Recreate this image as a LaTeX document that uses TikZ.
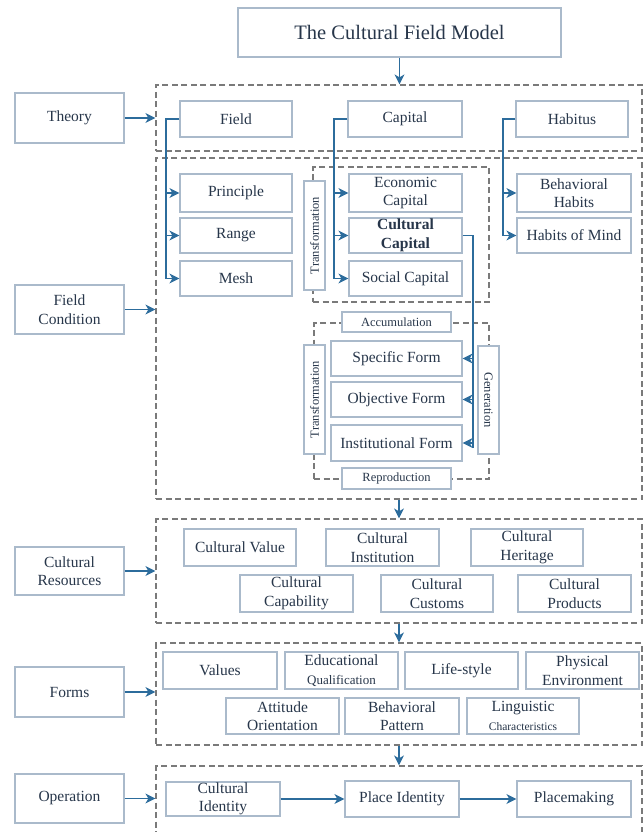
\documentclass[tikz,border=0pt]{standalone}
\usepackage{fontspec}
\setmainfont{Liberation Serif}
\usetikzlibrary{arrows.meta}
\definecolor{bord}{HTML}{AABACB}
\definecolor{txt}{HTML}{27364A}
\definecolor{arr}{HTML}{2C6C9C}
\definecolor{dsh}{HTML}{7A7A7A}
\tikzset{
 bx/.style={draw=bord, line width=1.2pt, fill=white, text=txt, align=center, inner sep=0pt, font=\fontsize{15.5}{18.5}\selectfont},
 dbox/.style={draw=dsh, line width=1.2pt, dash pattern=on 6pt off 3.5pt, inner sep=0pt},
 conn/.style={draw=arr, line width=1.3pt},
 arw/.style={conn, -{Stealth[length=10pt,width=10pt,inset=3pt]}},
 small/.style={font=\fontsize{12.5}{14}\selectfont},
}
\newcommand{\bx}[7][]{\node[bx,#1,minimum width={#5-#3},minimum height={#6-#4}] (#2) at ({(#3+#5)/2},{(#4+#6)/2}) {#7};}
\newcommand{\dbx}[5]{\node[dbox,minimum width={#4-#2},minimum height={#5-#3}] (#1) at ({(#2+#4)/2},{(#3+#5)/2}) {};}
\begin{document}
\begin{tikzpicture}[x=1pt,y=-1pt]
\useasboundingbox (0,0) rectangle (644,832);
\clip (0,0) rectangle (644,832);
% dashed containers
\dbx{dT}{156}{85}{642}{151}
\dbx{dF}{156}{158}{642}{499}
\dbx{dU}{313}{167}{489}{302}
\dbx{dL}{314}{323}{489}{479}
\dbx{dR}{156}{519}{642}{623}
\dbx{dM}{156}{643}{642}{745}
\dbx{dO}{156}{766}{642}{850}
% title
\bx[font=\fontsize{20.5}{23}\selectfont]{title}{238}{8}{561}{57}{The Cultural Field Model}
% left labels
\bx{theory}{15}{93}{124}{143}{Theory}
\bx{fieldc}{15}{285}{124}{334}{Field\\Condition}
\bx{cres}{15}{547}{124}{595}{Cultural\\Resources}
\bx{forms}{15}{667}{124}{717}{Forms}
\bx{oper}{15}{774}{124}{823}{Operation}
\draw[arw] (theory.east) -- (theory.east -| dT.west);
\draw[arw] (fieldc.east) -- (fieldc.east -| dF.west);
\draw[arw] (cres.east) -- (cres.east -| dR.west);
\draw[arw] (forms.east) -- (forms.east -| dM.west);
\draw[arw] (oper.east) -- (oper.east -| dO.west);
% vertical flow
\draw[arw] (title.south) -- (title.south |- dT.north);
\draw[arw] (dF.south) -- (dF.south |- dR.north);
\draw[arw] (dR.south) -- (dR.south |- dM.north);
\draw[arw] (dM.south) -- (dM.south |- dO.north);
% theory row
\bx{field}{180}{101}{292}{137}{Field}
\bx{capital}{348}{101}{462}{137}{Capital}
\bx{habitus}{516}{101}{628}{137}{Habitus}
% field condition
\bx{principle}{180}{174}{292}{212}{Principle}
\bx{range}{180}{218}{292}{253}{Range}
\bx{mesh}{180}{261}{292}{296}{Mesh}
\bx{econ}{349}{174}{462}{212}{Economic\\Capital}
\bx[font=\fontsize{15.5}{18.5}\selectfont\bfseries]{cc}{349}{218}{462}{253}{Cultural\\Capital}
\bx{social}{349}{261}{462}{296}{Social Capital}
\bx{bh}{517}{174}{631}{212}{Behavioral\\Habits}
\bx{hm}{517}{218}{631}{253}{Habits of Mind}
\node[bx,small,rotate=90,minimum width=109,minimum height=21] (tr1) at (314.5,235.5) {Transformation};
% field connectors
\coordinate (fj) at (166,0);
\draw[conn] (field.west) -| (fj |- mesh.west);
\draw[arw] (fj |- principle.west) -- (principle.west);
\draw[arw] (fj |- range.west) -- (range.west);
\draw[arw] (fj |- mesh.west) -- (mesh.west);
\coordinate (cj) at (334,0);
\draw[conn] (capital.west) -| (cj |- social.west);
\draw[arw] (cj |- econ.west) -- (econ.west);
\draw[arw] (cj |- cc.west) -- (cc.west);
\draw[arw] (cj |- social.west) -- (social.west);
\coordinate (hj) at (503,0);
\draw[conn] (habitus.west) -| (hj |- hm.west);
\draw[arw] (hj |- bh.west) -- (bh.west);
\draw[arw] (hj |- hm.west) -- (hm.west);
% forms of cultural capital
\bx{spec}{331}{341}{462}{376}{Specific Form}
\bx{obj}{331}{382}{462}{417}{Objective Form}
\bx{inst}{331}{425}{462}{461}{Institutional Form}
\bx[small]{accu}{342}{312}{451}{332}{Accumulation}
\bx[small]{repro}{342}{468}{451}{489}{Reproduction}
\node[bx,small,rotate=90,minimum width=109,minimum height=21] (tr2) at (314.5,399.5) {Transformation};
\node[bx,small,rotate=-90,minimum width=108,minimum height=21] (gen) at (488.5,400) {Generation};
\coordinate (gj) at (473,448);
\draw[conn] (cc.east) -| (gj);
\draw[arw] (spec.east -| gj) -- (spec.east);
\draw[arw] (obj.east -| gj) -- (obj.east);
\draw[arw] (inst.east -| gj) -- (inst.east);
% cultural resources
\bx{cv}{184}{529}{296}{566}{Cultural Value}
\bx{ci1}{326}{529}{439}{566}{Cultural\\Institution}
\bx{ch}{471}{529}{583}{566}{Cultural\\Heritage}
\bx{ccap}{240}{575}{353}{612}{Cultural\\Capability}
\bx{ccus}{381}{575}{493}{612}{Cultural\\Customs}
\bx{cprod}{518}{575}{631}{612}{Cultural\\Products}
% forms
\bx{val}{163}{652}{277}{689}{Values}
\bx{edu}{285}{652}{398}{689}{Educational\\{\fontsize{13}{14}\selectfont Qualification}}
\bx{life}{405}{652}{518}{689}{Life-style}
\bx{phys}{526}{652}{639}{689}{Physical\\Environment}
\bx{att}{226}{698}{339}{734}{Attitude\\Orientation}
\bx{bp}{345}{698}{459}{734}{Behavioral\\Pattern}
\bx{ling}{467}{698}{579}{734}{Linguistic\\{\fontsize{11.5}{13}\selectfont Characteristics}}
% operation
\bx{cid}{166}{782}{280}{816}{Cultural\\Identity}
\bx{pid}{345}{781}{459}{817}{Place Identity}
\bx{pm}{517}{781}{631}{817}{Placemaking}
\draw[arw] (cid.east) -- (pid.west);
\draw[arw] (pid.east) -- (pm.west);
\end{tikzpicture}
\end{document}
